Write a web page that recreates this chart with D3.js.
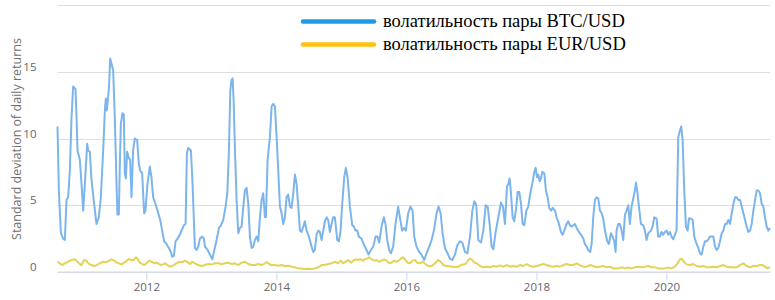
<!DOCTYPE html>
<html>
<head>
<meta charset="utf-8">
<script src="https://cdn.jsdelivr.net/npm/d3@7"></script>
<style>
  body { margin: 0; background: #fff; }
  svg { display: block; }
</style>
</head>
<body>
<svg id="chart" width="775" height="300"></svg>
<script>
// [decimal year, std dev of daily returns]
var btcPoints = [
  [2010.633, 10.9], [2010.654, 6.1], [2010.685, 2.9], [2010.721, 2.5], [2010.746, 2.4], [2010.772, 5.4],
  [2010.797, 5.6], [2010.823, 7.6], [2010.849, 11.6], [2010.874, 13.9], [2010.910, 13.7], [2010.926, 11.6],
  [2010.941, 9.1], [2010.977, 8.4], [2011.003, 6.6], [2011.028, 4.6], [2011.054, 6.6], [2011.090, 9.6],
  [2011.105, 9.1], [2011.131, 9.0], [2011.156, 6.9], [2011.197, 5.1], [2011.233, 3.6], [2011.269, 4.1],
  [2011.300, 5.6], [2011.336, 9.1], [2011.362, 12.1], [2011.377, 13.0], [2011.392, 12.1], [2011.413, 13.1],
  [2011.428, 14.1], [2011.444, 16.0], [2011.464, 15.6], [2011.490, 15.1], [2011.515, 11.6], [2011.541, 6.6],
  [2011.556, 4.3], [2011.577, 4.3], [2011.592, 7.9], [2011.608, 11.1], [2011.633, 11.9], [2011.654, 11.8],
  [2011.669, 7.4], [2011.685, 7.0], [2011.705, 9.0], [2011.726, 8.6], [2011.751, 8.4], [2011.772, 5.6],
  [2011.797, 9.1], [2011.823, 10.0], [2011.859, 9.9], [2011.885, 8.1], [2011.905, 7.6], [2011.936, 7.4],
  [2011.967, 4.4], [2011.987, 4.6], [2012.018, 6.6], [2012.054, 7.9], [2012.079, 7.1], [2012.105, 5.6],
  [2012.141, 5.1], [2012.172, 4.6], [2012.213, 3.9], [2012.244, 3.1], [2012.274, 2.3], [2012.310, 2.1],
  [2012.346, 1.8], [2012.377, 1.5], [2012.397, 1.15], [2012.423, 1.2], [2012.449, 2.3], [2012.479, 2.5],
  [2012.515, 2.8], [2012.541, 3.1], [2012.577, 3.5], [2012.603, 3.6], [2012.623, 8.9], [2012.644, 9.3],
  [2012.685, 9.1], [2012.710, 6.6], [2012.736, 3.1],
  [2012.746, 1.8], [2012.772, 1.65], [2012.797, 1.9], [2012.823, 2.5], [2012.859, 2.65], [2012.885, 2.5],
  [2012.900, 1.9], [2012.941, 1.65], [2012.977, 1.3], [2013.013, 0.95], [2013.044, 1.65], [2013.079, 2.4],
  [2013.115, 3.3], [2013.146, 3.5], [2013.182, 3.9], [2013.218, 4.9], [2013.244, 5.9], [2013.269, 9.1],
  [2013.290, 13.6], [2013.310, 14.4], [2013.326, 14.5], [2013.341, 12.9], [2013.362, 9.1], [2013.387, 5.4],
  [2013.413, 2.9], [2013.438, 3.3], [2013.464, 3.4], [2013.490, 4.9], [2013.515, 6.1], [2013.541, 6.3],
  [2013.567, 5.1], [2013.592, 2.65], [2013.618, 1.8], [2013.644, 1.9], [2013.669, 2.4], [2013.695, 2.65],
  [2013.721, 2.3], [2013.746, 4.1], [2013.772, 5.4], [2013.797, 5.9], [2013.823, 4.1], [2013.838, 4.1],
  [2013.864, 8.4], [2013.900, 10.1], [2013.926, 12.4], [2013.951, 12.6], [2013.977, 12.4], [2014.003, 10.1],
  [2014.028, 7.6], [2014.054, 4.9], [2014.079, 4.4], [2014.105, 3.6], [2014.131, 4.1], [2014.156, 5.6],
  [2014.182, 5.8], [2014.208, 4.9], [2014.233, 4.8], [2014.259, 5.9], [2014.285, 7.3], [2014.310, 6.6],
  [2014.336, 4.9], [2014.362, 3.1], [2014.387, 3.0], [2014.413, 3.4], [2014.438, 3.8], [2014.464, 3.1],
  [2014.490, 2.8], [2014.515, 2.4], [2014.541, 1.9], [2014.567, 1.5], [2014.592, 1.65], [2014.618, 2.8],
  [2014.644, 3.1], [2014.669, 3.0], [2014.695, 2.4], [2014.721, 3.1], [2014.746, 3.8], [2014.772, 4.1],
  [2014.797, 3.9], [2014.823, 3.0], [2014.849, 3.6], [2014.874, 4.1],
  [2014.900, 4.1], [2014.936, 2.4], [2014.962, 2.3], [2014.987, 3.1], [2015.013, 5.1], [2015.044, 7.1],
  [2015.069, 7.8], [2015.095, 7.1], [2015.131, 4.9], [2015.167, 3.5], [2015.192, 3.4], [2015.218, 3.1],
  [2015.244, 3.1], [2015.269, 2.65], [2015.310, 2.5], [2015.351, 2.0], [2015.387, 1.65], [2015.418, 1.3],
  [2015.454, 1.65], [2015.490, 1.9], [2015.526, 2.65], [2015.556, 2.65], [2015.582, 2.2], [2015.618, 3.4],
  [2015.654, 4.1], [2015.679, 3.6], [2015.705, 2.4], [2015.736, 1.65], [2015.762, 1.4], [2015.797, 1.9],
  [2015.833, 3.6], [2015.874, 4.9], [2015.900, 4.1], [2015.936, 3.1], [2015.967, 3.3], [2015.992, 3.1],
  [2016.028, 4.4], [2016.064, 4.9], [2016.095, 4.6], [2016.121, 2.65], [2016.156, 1.9], [2016.197, 1.5],
  [2016.233, 1.3], [2016.274, 0.9], [2016.310, 1.4], [2016.351, 1.9], [2016.387, 2.4], [2016.423, 3.1],
  [2016.464, 4.4], [2016.495, 4.9], [2016.526, 4.4], [2016.556, 2.9], [2016.592, 1.8], [2016.633, 1.4],
  [2016.669, 1.0], [2016.705, 0.9], [2016.746, 1.3], [2016.782, 2.0], [2016.823, 2.3], [2016.859, 2.2],
  [2016.900, 1.5], [2016.936, 1.4], [2016.977, 2.65], [2017.013, 4.6], [2017.044, 5.3], [2017.074, 5.0],
  [2017.105, 2.4], [2017.146, 2.2], [2017.182, 3.1], [2017.218, 5.0], [2017.249, 4.9], [2017.279, 3.6],
  [2017.310, 1.9], [2017.336, 1.7], [2017.372, 3.0], [2017.413, 4.1], [2017.454, 5.2], [2017.485, 4.9],
  [2017.515, 3.6], [2017.546, 6.4], [2017.567, 6.6], [2017.587, 7.0], [2017.608, 5.9], [2017.633, 4.1],
  [2017.659, 3.8], [2017.690, 4.9], [2017.710, 6.0], [2017.736, 6.0], [2017.762, 5.1], [2017.787, 3.6],
  [2017.813, 3.5], [2017.844, 4.6], [2017.874, 4.9], [2017.905, 5.9], [2017.936, 6.6], [2017.967, 7.5],
  [2017.987, 7.8], [2018.008, 7.1], [2018.028, 7.3], [2018.049, 6.8], [2018.069, 7.0], [2018.090, 7.5],
  [2018.121, 7.4], [2018.146, 6.1], [2018.172, 5.6], [2018.197, 4.8], [2018.223, 4.6], [2018.249, 4.8],
  [2018.285, 4.6], [2018.310, 4.1], [2018.346, 3.6], [2018.377, 3.0], [2018.403, 2.8], [2018.428, 3.1],
  [2018.464, 3.6], [2018.490, 3.8], [2018.515, 3.5], [2018.541, 3.4], [2018.567, 3.5], [2018.592, 3.6],
  [2018.618, 3.3], [2018.654, 3.0], [2018.685, 2.8], [2018.721, 2.5], [2018.746, 2.1], [2018.772, 1.9],
  [2018.797, 1.65], [2018.828, 1.5], [2018.849, 2.1], [2018.874, 4.1], [2018.900, 5.4], [2018.926, 5.6],
  [2018.951, 5.5], [2018.977, 4.6], [2019.003, 4.4], [2019.028, 4.0], [2019.054, 3.1], [2019.090, 2.3],
  [2019.115, 2.1], [2019.146, 2.9], [2019.172, 2.65], [2019.197, 2.3], [2019.218, 1.5],
  [2019.233, 3.1], [2019.259, 3.6], [2019.285, 3.6], [2019.310, 3.1], [2019.336, 2.4], [2019.362, 4.3],
  [2019.387, 4.6], [2019.413, 5.0], [2019.438, 3.6], [2019.464, 4.9], [2019.490, 5.5], [2019.515, 6.1],
  [2019.531, 6.7], [2019.551, 6.1], [2019.577, 4.9], [2019.608, 3.6], [2019.644, 3.5], [2019.669, 3.1],
  [2019.695, 2.4], [2019.721, 2.9], [2019.762, 3.1], [2019.787, 3.4], [2019.813, 4.1], [2019.849, 4.0],
  [2019.874, 2.65], [2019.900, 2.65], [2019.926, 3.0], [2019.951, 2.8], [2019.977, 3.0], [2020.003, 3.1],
  [2020.028, 2.8], [2020.054, 3.0], [2020.079, 2.65], [2020.105, 2.45], [2020.131, 2.8], [2020.156, 3.1],
  [2020.182, 10.1], [2020.208, 10.6], [2020.228, 10.9], [2020.249, 9.9], [2020.274, 6.1], [2020.300, 3.4],
  [2020.326, 3.1], [2020.346, 4.0], [2020.377, 4.0], [2020.403, 3.9], [2020.428, 2.65], [2020.464, 2.1],
  [2020.490, 1.8], [2020.515, 1.4], [2020.541, 1.3], [2020.567, 1.9], [2020.592, 2.3], [2020.618, 2.3],
  [2020.644, 2.45], [2020.669, 2.65], [2020.695, 2.65], [2020.721, 2.65], [2020.746, 1.9], [2020.772, 1.65],
  [2020.797, 1.8], [2020.823, 2.3], [2020.849, 2.9], [2020.874, 3.1], [2020.900, 3.6], [2020.926, 3.6],
  [2020.951, 3.9], [2020.977, 3.6], [2021.003, 4.4], [2021.028, 5.1], [2021.054, 5.6], [2021.079, 5.6],
  [2021.105, 5.4], [2021.131, 5.4], [2021.156, 4.9], [2021.182, 4.4], [2021.208, 3.9], [2021.233, 3.4],
  [2021.259, 3.0], [2021.285, 3.1], [2021.310, 3.6], [2021.336, 4.6], [2021.362, 5.4], [2021.387, 6.1],
  [2021.413, 6.1], [2021.438, 5.9], [2021.464, 5.1], [2021.490, 4.9], [2021.515, 4.1], [2021.541, 3.4],
  [2021.567, 3.1], [2021.592, 3.3]
];

var eurPoints = [
  [2010.633, 0.75], [2010.669, 0.65], [2010.705, 0.52], [2010.746, 0.65], [2010.797, 0.77], [2010.849, 0.9],
  [2010.890, 0.95], [2010.926, 0.85], [2010.962, 0.65], [2011.003, 0.52], [2011.044, 0.9], [2011.079, 0.85],
  [2011.105, 0.65], [2011.156, 0.52], [2011.197, 0.45], [2011.233, 0.52], [2011.285, 0.65], [2011.336, 0.77],
  [2011.372, 0.72], [2011.413, 0.82], [2011.464, 0.95], [2011.505, 0.85], [2011.541, 0.72], [2011.577, 0.65],
  [2011.618, 0.57], [2011.659, 0.7], [2011.695, 0.82], [2011.731, 0.97], [2011.772, 0.9], [2011.808, 0.9],
  [2011.838, 1.1], [2011.864, 1.0], [2011.900, 0.7], [2011.936, 0.6], [2011.967, 0.52], [2012.003, 0.65],
  [2012.044, 0.85], [2012.079, 0.77], [2012.121, 0.65], [2012.156, 0.7], [2012.197, 0.6], [2012.233, 0.52],
  [2012.285, 0.65], [2012.326, 0.52], [2012.362, 0.4], [2012.397, 0.45], [2012.438, 0.57], [2012.479, 0.7],
  [2012.515, 0.77], [2012.551, 0.72], [2012.592, 0.85], [2012.628, 0.77], [2012.669, 0.6], [2012.705, 0.77],
  [2012.746, 0.65], [2012.797, 0.52], [2012.849, 0.45], [2012.900, 0.52], [2012.951, 0.6], [2013.003, 0.57],
  [2013.054, 0.65], [2013.105, 0.65], [2013.156, 0.6], [2013.208, 0.65], [2013.259, 0.7], [2013.310, 0.6],
  [2013.362, 0.65], [2013.413, 0.52], [2013.464, 0.7], [2013.515, 0.77], [2013.567, 0.6], [2013.618, 0.52],
  [2013.669, 0.52], [2013.721, 0.6], [2013.772, 0.52], [2013.823, 0.65], [2013.849, 0.75], [2013.885, 0.6],
  [2013.926, 0.52], [2013.977, 0.52], [2014.028, 0.47], [2014.079, 0.52], [2014.131, 0.45], [2014.182, 0.47],
  [2014.233, 0.4], [2014.285, 0.35], [2014.336, 0.27], [2014.387, 0.27], [2014.438, 0.22], [2014.490, 0.25],
  [2014.541, 0.22], [2014.592, 0.27], [2014.644, 0.35], [2014.695, 0.52], [2014.746, 0.52], [2014.797, 0.6],
  [2014.849, 0.65], [2014.900, 0.77], [2014.951, 0.65], [2014.992, 0.85], [2015.028, 0.65], [2015.069, 0.77],
  [2015.105, 0.9], [2015.146, 0.7], [2015.182, 0.85], [2015.218, 0.95], [2015.259, 0.9], [2015.300, 0.95],
  [2015.336, 0.85], [2015.362, 0.95], [2015.397, 1.0], [2015.428, 1.1], [2015.464, 0.95], [2015.505, 0.85],
  [2015.541, 0.9], [2015.582, 0.77], [2015.618, 0.85], [2015.659, 0.95], [2015.695, 0.85], [2015.736, 0.65],
  [2015.772, 0.7], [2015.813, 0.85], [2015.849, 0.77], [2015.885, 0.85], [2015.915, 1.0], [2015.946, 1.1],
  [2015.977, 0.95], [2016.018, 0.7], [2016.054, 0.65], [2016.095, 0.85], [2016.131, 0.9], [2016.167, 0.7],
  [2016.208, 0.65], [2016.244, 0.77], [2016.285, 0.65], [2016.310, 0.52], [2016.346, 0.45], [2016.387, 0.45],
  [2016.428, 0.6], [2016.464, 0.77], [2016.490, 0.9], [2016.526, 0.77], [2016.567, 0.52], [2016.608, 0.45],
  [2016.644, 0.45], [2016.685, 0.4], [2016.721, 0.4], [2016.756, 0.35], [2016.797, 0.4], [2016.838, 0.52],
  [2016.874, 0.57], [2016.910, 0.6], [2016.951, 0.9], [2016.977, 1.0], [2017.003, 0.95], [2017.044, 0.7],
  [2017.079, 0.65], [2017.131, 0.45], [2017.182, 0.35], [2017.233, 0.4], [2017.285, 0.35], [2017.336, 0.45],
  [2017.387, 0.4], [2017.438, 0.5], [2017.490, 0.4], [2017.541, 0.52], [2017.592, 0.4], [2017.644, 0.45],
  [2017.695, 0.4], [2017.746, 0.52], [2017.797, 0.45], [2017.849, 0.6], [2017.900, 0.45], [2017.951, 0.4],
  [2018.003, 0.45], [2018.054, 0.52], [2018.105, 0.6], [2018.156, 0.52], [2018.208, 0.45], [2018.259, 0.4],
  [2018.310, 0.45], [2018.362, 0.4], [2018.413, 0.52], [2018.464, 0.6], [2018.515, 0.52], [2018.567, 0.52],
  [2018.618, 0.65], [2018.669, 0.52], [2018.721, 0.4], [2018.772, 0.4], [2018.823, 0.52], [2018.874, 0.45],
  [2018.926, 0.35], [2018.977, 0.4], [2019.028, 0.45], [2019.079, 0.35], [2019.131, 0.4], [2019.182, 0.27],
  [2019.259, 0.27], [2019.310, 0.35], [2019.362, 0.27], [2019.413, 0.35], [2019.464, 0.27], [2019.515, 0.35],
  [2019.567, 0.4], [2019.618, 0.35], [2019.669, 0.4], [2019.721, 0.45], [2019.772, 0.35], [2019.823, 0.35],
  [2019.874, 0.27], [2019.926, 0.27], [2019.977, 0.27], [2020.028, 0.35], [2020.079, 0.27], [2020.131, 0.4],
  [2020.172, 0.65], [2020.208, 0.95], [2020.233, 1.0], [2020.269, 0.77], [2020.310, 0.57], [2020.362, 0.52],
  [2020.413, 0.6], [2020.464, 0.45], [2020.515, 0.4], [2020.567, 0.45], [2020.618, 0.35], [2020.669, 0.35],
  [2020.721, 0.4], [2020.772, 0.35], [2020.823, 0.45], [2020.874, 0.52], [2020.926, 0.4], [2020.977, 0.35],
  [2021.028, 0.35], [2021.079, 0.35], [2021.131, 0.52], [2021.182, 0.65], [2021.233, 0.45], [2021.285, 0.35],
  [2021.336, 0.45], [2021.387, 0.45], [2021.438, 0.52], [2021.474, 0.52], [2021.515, 0.4], [2021.556, 0.27],
  [2021.592, 0.35]
];

var yTicks = [0, 5, 10, 15];
var yGrid = [0, 5, 10, 15, 20];
var xTickYears = [2012, 2014, 2016, 2018, 2020];
var legendLabels = ["волатильность пары BTC/USD", "волатильность пары EUR/USD"];

function toDate(y) {
  var yr = Math.floor(y);
  var s = Date.UTC(yr, 0, 1), e = Date.UTC(yr + 1, 0, 1);
  return new Date(s + (y - yr) * (e - s));
}

var svg = d3.select("#chart");
var plotLeft = 57.5, plotRight = 770;

var x = d3.scaleUtc()
  .domain([toDate(btcPoints[0][0]), toDate(btcPoints[btcPoints.length - 1][0])])
  .range([plotLeft, plotRight]);
var y = d3.scaleLinear().domain([0, 20]).range([272, 5]);

// grid
svg.append("g").selectAll("line")
  .data(yGrid)
  .enter().append("line")
  .attr("x1", plotLeft).attr("x2", plotRight)
  .attr("y1", function (d) { return Math.round(y(d)) + 0.5; })
  .attr("y2", function (d) { return Math.round(y(d)) + 0.5; })
  .attr("stroke", "#dedede")
  .attr("stroke-width", 1);

// y labels
var yAxis = svg.append("g")
  .attr("transform", "translate(" + plotLeft + ",0)")
  .call(d3.axisLeft(y).tickValues(yTicks).tickSize(0).tickPadding(21));
yAxis.select(".domain").remove();
yAxis.selectAll("text")
  .attr("y", -5)
  .attr("fill", "#666")
  .style("font-family", "'Open Sans', sans-serif")
  .style("font-size", "11.5px");

svg.append("text")
  .attr("transform", "translate(16,139) rotate(-90)")
  .attr("text-anchor", "middle")
  .attr("dominant-baseline", "central")
  .attr("fill", "#707070")
  .style("font-family", "'Open Sans', sans-serif")
  .style("font-size", "12.5px")
  .text("Standard deviation of daily returns");

// x axis
var xAxis = svg.append("g")
  .attr("transform", "translate(0," + (Math.round(y(0)) - 0.5) + ")")
  .call(d3.axisBottom(x)
    .tickValues(xTickYears.map(function (d) { return toDate(d); }))
    .tickFormat(d3.utcFormat("%Y"))
    .tickSize(9).tickSizeOuter(0).tickPadding(2));
xAxis.select(".domain").attr("stroke", "#ccd6eb");
xAxis.selectAll(".tick line").attr("stroke", "#ccd6eb");
xAxis.selectAll("text")
  .attr("fill", "#666")
  .style("font-family", "'Open Sans', sans-serif")
  .style("font-size", "11.5px");

// series
var line = d3.line()
  .x(function (d) { return x(toDate(d[0])); })
  .y(function (d) { return y(d[1]); });

svg.append("path")
  .datum(eurPoints)
  .attr("d", line)
  .attr("fill", "none")
  .attr("stroke", "#e4d354")
  .attr("stroke-width", 2)
  .attr("stroke-linejoin", "round");

svg.append("path")
  .datum(btcPoints)
  .attr("d", line)
  .attr("fill", "none")
  .attr("stroke", "#7cb5ec")
  .attr("stroke-width", 2)
  .attr("stroke-linejoin", "round");

// legend
var legendColors = ["#1c9ce5", "#ffc20e"];
var lg = svg.append("g").selectAll("g")
  .data(legendLabels)
  .enter().append("g")
  .attr("transform", function (d, i) { return "translate(0," + (21.5 + i * 23) + ")"; });
lg.append("line")
  .attr("x1", 303).attr("x2", 374)
  .attr("stroke", function (d, i) { return legendColors[i]; })
  .attr("stroke-width", 4.5)
  .attr("stroke-linecap", "round");
lg.append("text")
  .attr("x", 383)
  .attr("y", 5.5)
  .attr("fill", "#000")
  .style("font-family", "'Liberation Serif', 'Times New Roman', serif")
  .style("font-size", "18.5px")
  .text(function (d) { return d; });
</script>
</body>
</html>
